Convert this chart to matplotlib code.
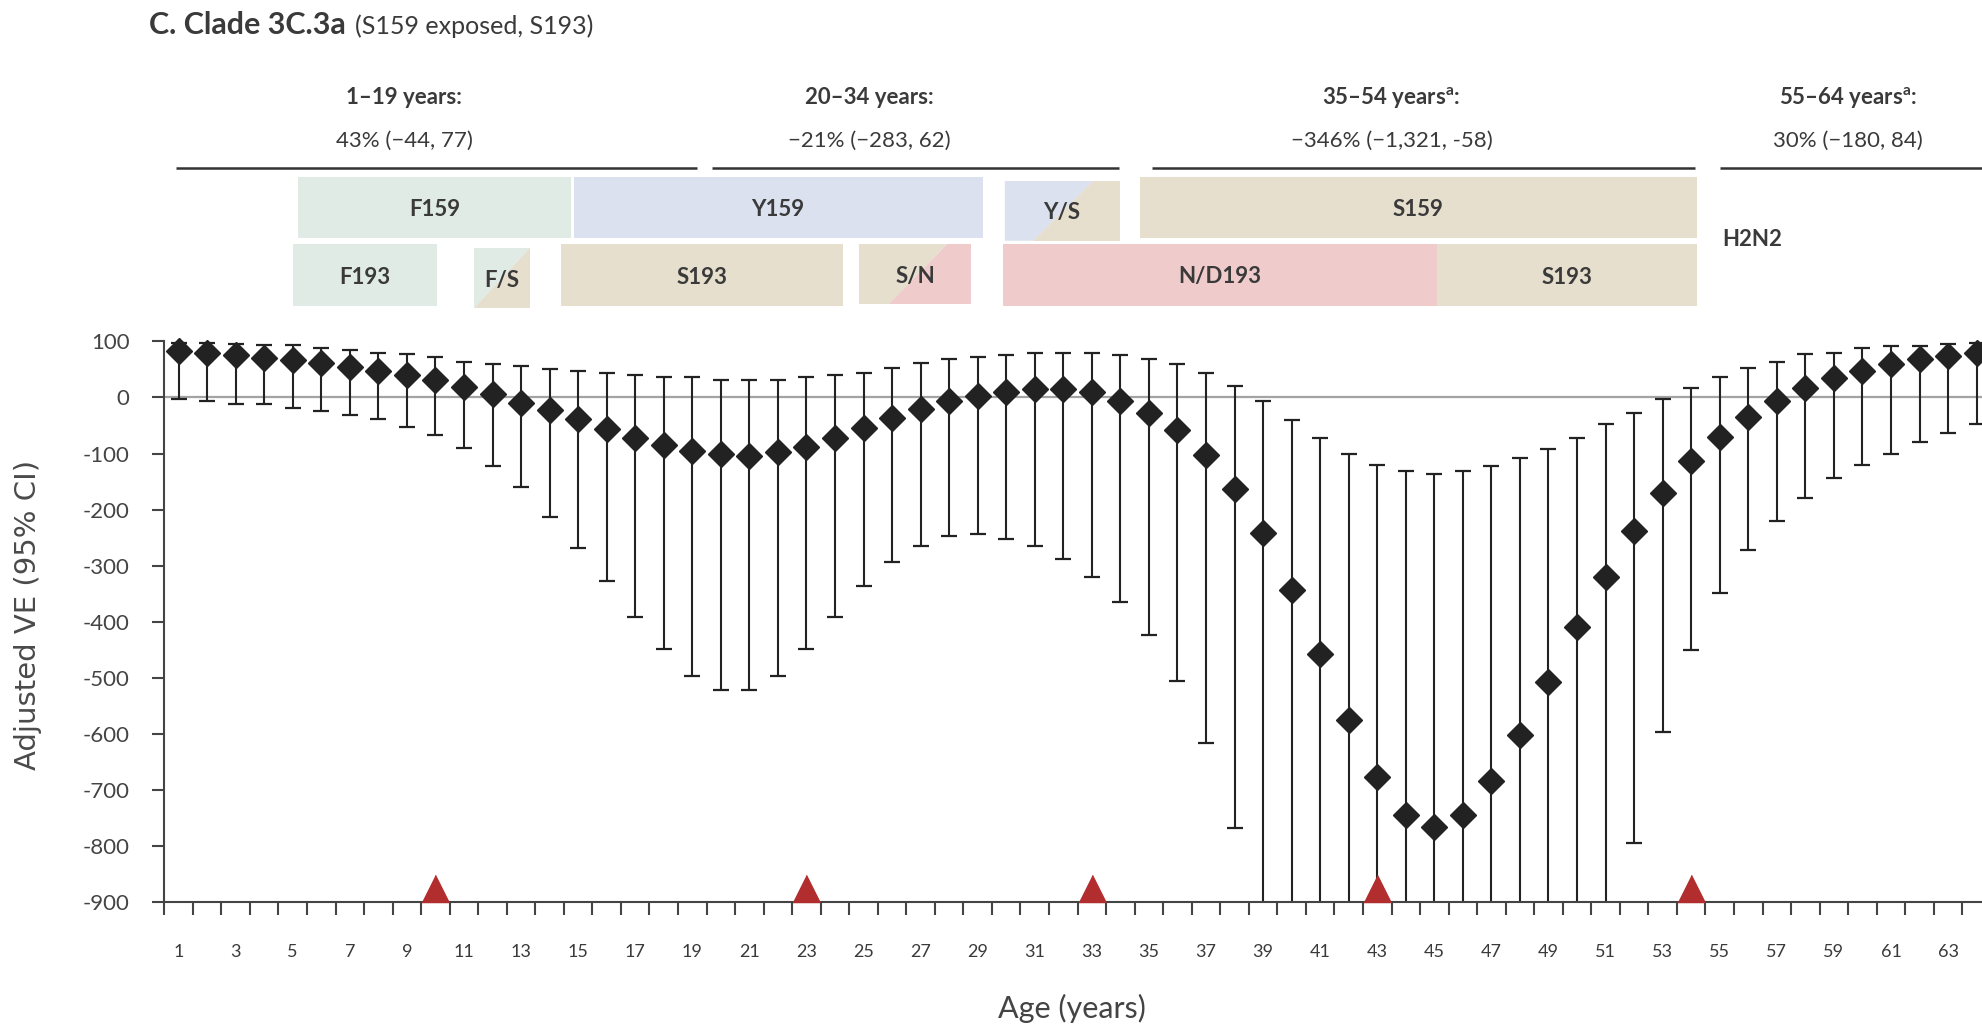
import matplotlib
matplotlib.use('Agg')
import matplotlib.pyplot as plt
from matplotlib.patches import Rectangle, Polygon
import numpy as np

plt.rcParams['font.family'] = ['Lato', 'DejaVu Sans']
plt.rcParams['mathtext.fontset'] = 'custom'
plt.rcParams['mathtext.rm'] = 'Lato'
plt.rcParams['mathtext.bf'] = 'Lato:bold'

# adjusted VE by single year of age, with 95% CI
ages = np.arange(1, 65)
ve = [82, 79, 75, 70, 67, 61, 55, 48, 40, 31,
      19, 6, -9, -22, -39, -57, -73, -85, -95, -101,
      -104, -98, -88, -73, -55, -37, -21, -7, 2, 10,
      15, 15, 10, -6, -27, -58, -103, -164, -242, -344,
      -457, -575, -677, -745, -766, -745, -685, -602, -507, -409,
      -320, -238, -170, -114, -70, -34, -6, 16, 34, 48,
      59, 68, 74, 79]
ci_high = [98, 97, 95, 93, 93, 88, 84, 80, 77, 72,
           64, 60, 56, 51, 48, 44, 40, 36, 36, 32,
           32, 32, 36, 40, 44, 52, 61, 68, 72, 76,
           80, 80, 80, 76, 68, 60, 44, 20, -7, -40,
           -72, -101, -120, -132, -137, -132, -123, -108, -92, -72,
           -48, -28, -3, 16, 36, 52, 64, 77, 80, 88,
           92, 92, 95, 98]
ci_low = [-3, -7, -12, -12, -19, -24, -31, -39, -52, -67,
          -91, -123, -159, -213, -269, -328, -391, -449, -497, -521,
          -521, -497, -449, -392, -336, -293, -265, -248, -244, -252,
          -265, -289, -321, -364, -424, -505, -617, -768, -1050, -1300,
          -1600, -1900, -2200, -2400, -2450, -2400, -2200, -1900, -1600, -1300,
          -1050, -795, -597, -450, -349, -272, -220, -180, -144, -120,
          -100, -80, -64, -48]
flag_ages = [10, 23, 33, 43, 54]

# age-group summary estimates
group_title = ['1–19 years:', '20–34 years:', '35–54 years$^{\\mathbf{a}}$:', '55–64 years$^{\\mathbf{a}}$:']
group_ve = ['43% (−44, 77)', '−21% (−283, 62)', '−346% (−1,321, -58)', '30% (−180, 84)']
group_start = [0.9, 19.7, 35.1, 55.0]
group_end = [19.15, 33.95, 54.15, 66.0]
group_mid = [8.9, 25.2, 43.5, 59.5]

# HA residue 159 and 193 by birth-year age range
row1_label = ['F159', 'Y159', 'Y/S', 'S159']
row1_start = [5.19, 14.84, 29.95, 34.69]
row1_end = [14.76, 29.17, 33.97, 54.19]
row2_label = ['F193', 'F/S', 'S193', 'S/N', 'N/D193', 'S193']
row2_start = [5.02, 11.35, 14.39, 24.84, 29.88, 45.09]
row2_end = [10.04, 13.32, 24.28, 28.78, 45.09, 54.19]

mint = '#e1ebe6'
blue = '#dbe1ef'
tan = '#e6dfcd'
pink = '#efcbcb'
ink = '#3a3a3a'

W, H = 1982, 1024
fig = plt.figure(figsize=(W / 100, H / 100), dpi=100)

x_left = 164.3 / W
x_width = 64 * 28.54 / W
ax = fig.add_axes([x_left, 1 - 902 / H, x_width, (902 - 341.4) / H])
ax.set_xlim(0.5, 64.5)
ax.set_ylim(-900, 100)

ax.axhline(0, color='#a3a3a3', lw=1.6, zorder=1)
ax.errorbar(ages, ve, yerr=[np.array(ve) - np.array(ci_low), np.array(ci_high) - np.array(ve)],
            fmt='none', ecolor='#222222', elinewidth=1.5, capsize=5.8, capthick=1.6, zorder=2)
ax.plot(ages, ve, ls='none', marker='D', ms=12.8, color='#222222', zorder=3, clip_on=False)
tri = [(-1, 0), (1, 0), (0, 2)]
ax.plot(flag_ages, [-900] * len(flag_ages), ls='none', marker=tri, ms=39,
        color='#b22e2e', zorder=4, clip_on=False)

for side in ['top', 'right']:
    ax.spines[side].set_visible(False)
for side in ['left', 'bottom']:
    ax.spines[side].set_color('#444444')
    ax.spines[side].set_linewidth(1.5)

ax.set_yticks(range(-900, 101, 100))
ax.set_yticklabels([str(v) for v in range(-900, 101, 100)], fontsize=16, color='#444444')
ax.tick_params(axis='y', length=9, width=1.5, color='#444444', pad=16)

ax.set_xticks(ages[::2])
ax.set_xticklabels([str(a) for a in ages[::2]], fontsize=13, color=ink)
ax.set_xticks(np.arange(0.5, 65, 1), minor=True)
ax.tick_params(axis='x', which='major', length=0, pad=30)
ax.tick_params(axis='x', which='minor', length=9, width=1.5, color='#444444')

fig.text(28 / W, 1 - 615 / H, 'Adjusted VE (95% CI)', rotation=90, ha='center', va='center',
         fontsize=21, color='#4a4a4a', family=['DejaVu Sans'])
fig.text(1072 / W, 1 - 1008 / H, 'Age (years)', ha='center', va='center', fontsize=22, color='#444444')

# title, bold part then the clade note
t1 = fig.text(149 / W, 1 - 34 / H, 'C. Clade 3C.3a', fontsize=22, fontweight='bold',
              color=ink, va='baseline')
fig.canvas.draw()
bb = t1.get_window_extent()
fig.text((bb.x1 + 9) / W, 1 - 34 / H, '(S159 exposed, S193)', fontsize=18,
         color=ink, va='baseline')

# header band drawn in pixel rows from the top of the figure
hax = fig.add_axes([x_left, 1 - 330 / H, x_width, 330 / H], sharex=ax)
hax.set_ylim(330, 0)
hax.axis('off')

for title, est, s, e, m in zip(group_title, group_ve, group_start, group_end, group_mid):
    hax.plot([s, e], [167.7, 167.7], color='#333333', lw=1.8, solid_capstyle='butt', clip_on=False)
    hax.text(m, 98, title, ha='center', va='center', fontsize=16, fontweight='bold', color=ink)
    hax.text(m, 141, est, ha='center', va='center', fontsize=16, color=ink)


def draw_box(x0, x1, top, bot, c1, c2=None, split=(0.0, 1.0)):
    if c2 is None:
        hax.add_patch(Rectangle((x0, top), x1 - x0, bot - top, facecolor=c1, edgecolor='none'))
        return
    w = x1 - x0
    a, b = split
    hax.add_patch(Polygon([(x0, top), (x0 + b * w, top), (x0 + a * w, bot), (x0, bot)],
                          facecolor=c1, edgecolor='none'))
    hax.add_patch(Polygon([(x0 + b * w, top), (x1, top), (x1, bot), (x0 + a * w, bot)],
                          facecolor=c2, edgecolor='none'))


row1_style = [(mint, None, None), (blue, None, None), (blue, tan, (0.25, 0.77)), (tan, None, None)]
row1_y = [(176.7, 238.3), (176.7, 238.3), (181, 240.7), (176.7, 238.3)]
for lab, s, e, (c1, c2, sp), (t, b) in zip(row1_label, row1_start, row1_end, row1_style, row1_y):
    if sp is None:
        draw_box(s, e, t, b, c1)
    else:
        draw_box(s, e, t, b, c1, c2, sp)
    hax.text((s + e) / 2, (t + b) / 2 + 2, lab, ha='center', va='center', fontsize=16,
             fontweight='bold', color=ink)

row2_style = [(mint, None, None), (mint, tan, (0.0, 1.0)), (tan, None, None),
              (tan, pink, (0.27, 0.78)), (pink, None, None), (tan, None, None)]
row2_y = [(244, 306), (248, 308), (244, 306), (244, 304), (244, 306), (244, 306)]
for lab, s, e, (c1, c2, sp), (t, b) in zip(row2_label, row2_start, row2_end, row2_style, row2_y):
    if sp is None:
        draw_box(s, e, t, b, c1)
    else:
        draw_box(s, e, t, b, c1, c2, sp)
    hax.text((s + e) / 2, (t + b) / 2 + 2, lab, ha='center', va='center', fontsize=16,
             fontweight='bold', color=ink)

hax.text(55.1, 239, 'H2N2', ha='left', va='center', fontsize=16, fontweight='bold', color=ink)

fig.savefig('out.png', dpi=100)
